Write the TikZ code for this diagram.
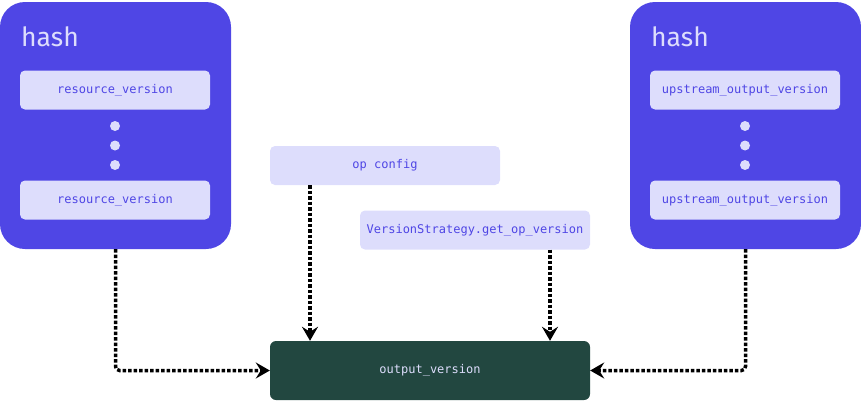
\documentclass[tikz,border=0pt]{standalone}
\usepackage{fontspec}
\setmainfont{Fira Sans}
\setmonofont{DejaVu Sans Mono}
\usetikzlibrary{arrows.meta}
\definecolor{hashblue}{RGB}{79,70,229}
\definecolor{itempale}{RGB}{221,221,252}
\definecolor{outgreen}{RGB}{34,71,64}

\begin{document}
\begin{tikzpicture}[x=1pt, y=-1pt,
    hashbox/.style={fill=hashblue, rounded corners=25pt, minimum width=231pt, minimum height=247pt, inner sep=0pt},
    hashlabel/.style={anchor=west, text=itempale, font=\fontsize{26.5}{26}\selectfont, inner sep=0pt},
    itembox/.style={fill=itempale, rounded corners=5pt, text=hashblue, font=\ttfamily\fontsize{12}{12}\selectfont, minimum height=39pt, inner sep=0pt},
    dotmark/.style={fill=itempale, circle, minimum size=10pt, inner sep=0pt},
    flow/.style={line width=3.5pt, dash pattern=on 3.5pt off 2pt, rounded corners=4pt, -{Stealth[length=14pt, width=16pt, inset=5pt]}}]
    \useasboundingbox (0,0) rectangle (861,402);

    % left hash
    \node[hashbox] (lhash) at (115.5,125.5) {};
    \node[hashlabel] (lhashlabel) at (21,37) {hash};
    \node[itembox, minimum width=190pt] (lres1) at (115,90) {resource\_version};
    \node[itembox, minimum width=190pt] (lres2) at (115,200) {resource\_version};
    \node[dotmark] (ldot1) at (115,126) {};
    \node[dotmark] (ldot2) at (115,145.5) {};
    \node[dotmark] (ldot3) at (115,165) {};

    % right hash
    \node[hashbox] (rhash) at (745.5,125.5) {};
    \node[hashlabel] (rhashlabel) at (651,37) {hash};
    \node[itembox, minimum width=190pt] (rup1) at (745,90) {upstream\_output\_version};
    \node[itembox, minimum width=190pt] (rup2) at (745,200) {upstream\_output\_version};
    \node[dotmark] (rdot1) at (745,126) {};
    \node[dotmark] (rdot2) at (745,145.5) {};
    \node[dotmark] (rdot3) at (745,165) {};

    % op inputs
    \node[itembox, minimum width=230pt] (cfg) at (385,165.5) {op config};
    \node[itembox, minimum width=230pt] (strat) at (475,230) {VersionStrategy.get\_op\_version};

    % output
    \node[fill=outgreen, rounded corners=6pt, minimum width=320pt, minimum height=59pt, inner sep=0pt,
          text=itempale, font=\ttfamily\fontsize{12}{12}\selectfont] (out) at (430,370.5) {output\_version};

    % connectors
    \draw[flow] (lhash.south) |- (out.west);
    \draw[flow] (rhash.south) |- (out.east);
    \draw[flow] ([xshift=-75pt]cfg.south) -- ([xshift=-120pt]out.north);
    \draw[flow] ([xshift=75pt]strat.south) -- ([xshift=120pt]out.north);
\end{tikzpicture}
\end{document}
